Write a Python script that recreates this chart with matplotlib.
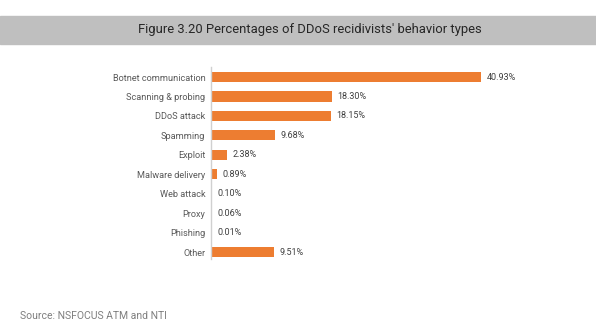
import matplotlib
matplotlib.use("Agg")
import matplotlib.pyplot as plt
from matplotlib.patches import Rectangle

categories = ["Botnet communication", "Scanning & probing", "DDoS attack",
              "Spamming", "Exploit", "Malware delivery", "Web attack",
              "Proxy", "Phishing", "Other"]
values = [40.93, 18.30, 18.15, 9.68, 2.38, 0.89, 0.10, 0.06, 0.01, 9.51]
title = "Figure 3.20 Percentages of DDoS recidivists' behavior types"
source = "Source: NSFOCUS ATM and NTI"

plt.rcParams["font.family"] = ["Roboto", "DejaVu Sans"]

fig = plt.figure(figsize=(5.96, 3.27), dpi=100)

# grey title band
fig.patches.append(Rectangle((0, 1 - 44 / 327), 1, 28 / 327,
                             transform=fig.transFigure, color="#bfbfbf",
                             zorder=0))
fig.text(0.52, 1 - 30 / 327, title, ha="center", va="center",
         fontsize=9.4, color="#262626")

ax = fig.add_axes([211 / 596, 1 - 259 / 327, 330 / 596, 192 / 327])
y = range(len(categories))
ax.barh(y, values, height=0.52, color="#ed7d31")
for yi, v in zip(y, values):
    ax.text(v + 0.9, yi, f"{v:.2f}%", va="center", ha="left",
            fontsize=6.5, color="#404040")

ax.set_xlim(0, 50)
ax.set_ylim(9.36, -0.52)
ax.set_yticks(list(y))
ax.set_yticklabels(categories, fontsize=6.6, color="#595959")
ax.tick_params(axis="y", length=0, pad=4)
ax.set_xticks([])
for s in ["top", "right", "bottom"]:
    ax.spines[s].set_visible(False)
ax.spines["left"].set_color("#d0d0d0")
ax.spines["left"].set_linewidth(1.0)

fig.text(20 / 596, 1 - 316 / 327, source, ha="left", va="center",
         fontsize=7.5, color="#7f7f7f")

fig.savefig("out.png", dpi=100)
